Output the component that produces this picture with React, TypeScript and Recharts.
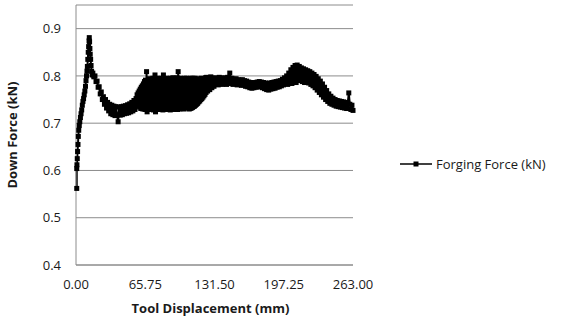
import { LineChart, Line, XAxis, YAxis, CartesianGrid } from 'recharts';

// plunge stage: [displacement mm, force kN]
const plunge: [number, number][] = [
  [0.7, 0.562], [0.7, 0.604], [0.9, 0.612], [1.2, 0.625], [1.5, 0.64], [1.9, 0.655],
  [2.2, 0.672], [2.6, 0.685], [3.1, 0.695], [3.6, 0.703], [4.2, 0.712], [4.8, 0.72],
  [5.4, 0.728], [6.0, 0.738], [6.6, 0.746], [7.2, 0.752], [7.8, 0.76], [8.4, 0.768],
  [9.0, 0.778], [9.5, 0.79], [10.0, 0.8], [10.4, 0.81], [10.8, 0.82], [11.2, 0.835],
  [11.6, 0.85], [12.0, 0.862], [12.4, 0.874], [12.6, 0.881], [12.9, 0.872], [13.2, 0.858],
  [13.5, 0.846], [13.9, 0.835], [14.3, 0.822], [14.8, 0.81], [15.3, 0.802],
];

// decay after the peak, every 1 mm
const decayStart = 16;
const decay = [
  0.806, 0.798, 0.8, 0.788, 0.789, 0.776, 0.777, 0.762, 0.766, 0.75,
  0.756, 0.74, 0.75, 0.732, 0.744, 0.726, 0.74, 0.72, 0.738, 0.718,
  0.736, 0.716, 0.735, 0.717, 0.703, 0.734, 0.717, 0.735, 0.718, 0.736,
  0.72, 0.737, 0.721, 0.739, 0.722, 0.741, 0.724, 0.744, 0.726, 0.748,
  0.729,
];

// noisy stir zone, every 0.5 mm
const stirStart = 57;
const stirStep = 0.5;
const stir = [
  0.752, 0.737, 0.76, 0.74, 0.764, 0.736, 0.768, 0.734, 0.772, 0.731,
  0.776, 0.733, 0.779, 0.73, 0.783, 0.732, 0.788, 0.729, 0.791, 0.733,
  0.809, 0.724, 0.79, 0.73, 0.794, 0.736, 0.787, 0.729, 0.793, 0.731,
  0.789, 0.734, 0.795, 0.728, 0.786, 0.732, 0.802, 0.724, 0.792, 0.73,
  0.795, 0.733, 0.788, 0.729, 0.794, 0.735, 0.79, 0.73, 0.795, 0.732,
  0.787, 0.728, 0.802, 0.731, 0.793, 0.734, 0.789, 0.729, 0.795, 0.732,
  0.79, 0.73, 0.794, 0.735, 0.788, 0.728, 0.795, 0.731, 0.791, 0.733,
  0.796, 0.729, 0.789, 0.734, 0.795, 0.73, 0.792, 0.732, 0.796, 0.729,
  0.809, 0.733, 0.793, 0.73, 0.795, 0.735, 0.79, 0.731, 0.794, 0.733,
  0.789, 0.73, 0.795, 0.734, 0.791, 0.732, 0.795, 0.736, 0.79, 0.733,
  0.794, 0.73, 0.792, 0.731, 0.795, 0.732, 0.79, 0.733, 0.795, 0.735,
  0.792, 0.736, 0.795, 0.738, 0.791, 0.74, 0.794, 0.742, 0.79, 0.745,
  0.793, 0.747, 0.79, 0.75, 0.795, 0.752, 0.791, 0.755, 0.794, 0.758,
  0.792, 0.761, 0.796, 0.765, 0.797,
];

// steady plateau, every 1 mm
const plateauStart = 125;
const plateau = [
  0.768, 0.796, 0.771, 0.798, 0.775, 0.795, 0.778, 0.796, 0.783, 0.794,
  0.781, 0.797, 0.784, 0.795, 0.782, 0.796, 0.785, 0.795, 0.782, 0.797,
  0.786, 0.806, 0.784, 0.795, 0.782, 0.793, 0.784, 0.794, 0.781, 0.792,
  0.782, 0.791, 0.78, 0.792, 0.781, 0.79, 0.778, 0.789, 0.777, 0.787,
  0.775, 0.786, 0.774, 0.785, 0.775, 0.786, 0.776, 0.787, 0.777, 0.788,
  0.777, 0.787, 0.775, 0.786, 0.773, 0.785, 0.771, 0.784, 0.77, 0.785,
  0.772, 0.786, 0.773, 0.787, 0.774, 0.788, 0.776, 0.789, 0.777, 0.79,
  0.779, 0.793, 0.781, 0.796, 0.784, 0.8,
];

// hump and tail, every 1 mm
const humpStart = 201;
const hump = [
  0.782, 0.806, 0.785, 0.813, 0.784, 0.818, 0.79, 0.822, 0.786, 0.823,
  0.79, 0.82, 0.792, 0.817, 0.788, 0.815, 0.786, 0.813, 0.788, 0.811,
  0.785, 0.809, 0.782, 0.806, 0.779, 0.803, 0.775, 0.799, 0.77, 0.794,
  0.765, 0.789, 0.76, 0.783, 0.755, 0.776, 0.75, 0.769, 0.746, 0.762,
  0.742, 0.757, 0.74, 0.753, 0.738, 0.75, 0.736, 0.748, 0.735, 0.747,
  0.734, 0.746, 0.733, 0.745, 0.732, 0.744, 0.731, 0.742, 0.764, 0.74,
  0.729, 0.738, 0.727,
];

const xTicks = [0, 65.75, 131.5, 197.25, 263];
const yTicks = [0.4, 0.5, 0.6, 0.7, 0.8, 0.9];

const data = [
  ...plunge.map(([x, y]) => ({ x, y })),
  ...decay.map((y, i) => ({ x: decayStart + i, y })),
  ...stir.map((y, i) => ({ x: stirStart + i * stirStep, y })),
  ...plateau.map((y, i) => ({ x: plateauStart + i, y })),
  ...hump.map((y, i) => ({ x: humpStart + i, y })),
];

const FONT = '"Open Sans", sans-serif';

function SquareDot(props: any) {
  const { cx, cy, index } = props;
  if (cx == null || cy == null) return <g key={index} />;
  return <rect key={index} x={cx - 2.5} y={cy - 2.5} width={5} height={5} fill="#000" />;
}

export default function App() {
  return (
    <div style={{ position: 'absolute', left: 0, top: 0, width: 566, height: 322, background: '#fff' }}>
      <LineChart width={566} height={322} data={data} margin={{ top: 5, right: 213, bottom: 0, left: 0 }}>
        <CartesianGrid vertical={false} stroke="#8c8c8c" />
        <XAxis
          dataKey="x"
          type="number"
          domain={[0, 263]}
          ticks={xTicks}
          tickFormatter={(v: number) => v.toFixed(2)}
          tickLine={false}
          tickSize={0}
          tickMargin={15}
          height={57}
          stroke="#8c8c8c"
          tick={{ fill: '#1a1a1a', fontSize: 13, fontFamily: FONT }}
          label={{
            content: ({ viewBox }: any) => (
              <text
                x={viewBox.x + viewBox.width / 2 - 4}
                y={viewBox.y + 45}
                textAnchor="middle"
                dominantBaseline="middle"
                fontFamily={FONT}
                fontWeight="bold"
                fontSize={13}
                fill="#1a1a1a"
              >
                Tool Displacement (mm)
              </text>
            ),
          }}
        />
        <YAxis
          type="number"
          domain={[0.4, 0.95]}
          ticks={yTicks}
          tickFormatter={(v: number) => v.toFixed(1)}
          tickLine={false}
          tickSize={0}
          tickMargin={15}
          width={76}
          stroke="#8c8c8c"
          allowDataOverflow
          tick={{ fill: '#1a1a1a', fontSize: 13, fontFamily: FONT }}
          label={{
            content: ({ viewBox }: any) => {
              const cx = 14;
              const cy = viewBox.y + viewBox.height / 2;
              return (
                <text
                  x={cx}
                  y={cy}
                  transform={`rotate(-90 ${cx} ${cy})`}
                  textAnchor="middle"
                  dominantBaseline="middle"
                  fontFamily={FONT}
                  fontWeight="bold"
                  fontSize={13}
                  fill="#1a1a1a"
                >
                  Down Force (kN)
                </text>
              );
            },
          }}
        />
        <Line
          type="linear"
          dataKey="y"
          stroke="#000"
          strokeWidth={2}
          dot={SquareDot}
          activeDot={false}
          isAnimationActive={false}
        />
      </LineChart>
      <div
        style={{
          position: 'absolute',
          left: 399,
          top: 154,
          display: 'flex',
          alignItems: 'center',
          fontFamily: FONT,
          fontSize: 13,
          color: '#1a1a1a',
        }}
      >
        <svg width={34} height={20}>
          <line x1={1} y1={10} x2={33} y2={10} stroke="#000" strokeWidth={1.5} />
          <rect x={14.5} y={7.5} width={5} height={5} fill="#000" />
        </svg>
        <span style={{ marginLeft: 3 }}>Forging Force (kN)</span>
      </div>
    </div>
  );
}
